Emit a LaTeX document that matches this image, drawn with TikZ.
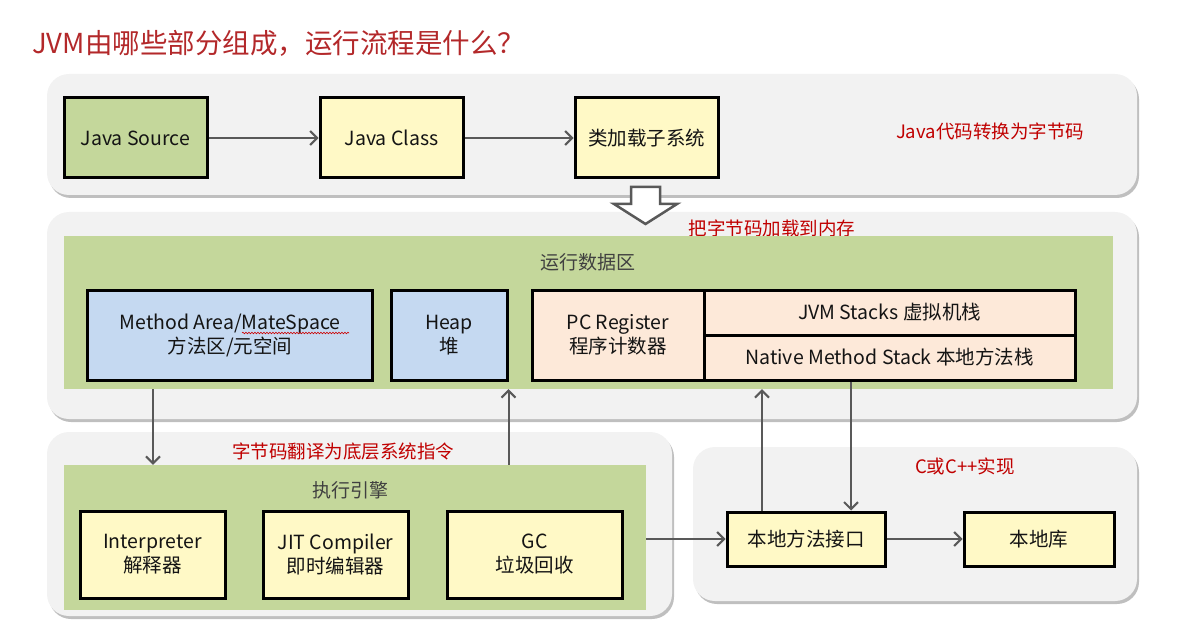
\documentclass[tikz,border=0pt]{standalone}
\usepackage{fontspec}
\setmainfont{Noto Sans CJK SC}
\usetikzlibrary{arrows.meta,shadows,decorations.pathmorphing}

\definecolor{panelgray}{HTML}{F2F2F2}
\definecolor{areagreen}{HTML}{C4D79B}
\definecolor{boxyellow}{HTML}{FFF9C6}
\definecolor{boxblue}{HTML}{C5D9F1}
\definecolor{boxpeach}{HTML}{FDE9D9}
\definecolor{linegray}{HTML}{595959}
\definecolor{notered}{HTML}{C00000}
\definecolor{titlered}{HTML}{B3282A}
\definecolor{labelgray}{HTML}{404040}

\tikzset{
  panel/.style={fill=panelgray, draw=none, rounded corners=22pt,
    drop shadow={shadow xshift=2pt, shadow yshift=-3pt, opacity=0.25, fill=black}},
  area/.style={fill=areagreen, draw=none, inner sep=0pt},
  box/.style={draw=black, line width=3pt, inner sep=0pt, align=center,
    text=black!92, font=\fontsize{19.5}{24}\selectfont},
  ybox/.style={box, fill=boxyellow},
  gbox/.style={box, fill=areagreen},
  bbox/.style={box, fill=boxblue},
  pbox/.style={box, fill=boxpeach},
  note/.style={text=notered, font=\fontsize{18.5}{22}\selectfont},
  areatitle/.style={text=labelgray, font=\fontsize{19}{22}\selectfont},
  arr/.style={draw=linegray, line width=2pt,
    -{Straight Barb[length=7pt, width=14pt, line width=2pt]}},
}

\begin{document}
\begin{tikzpicture}[x=1pt, y=-1pt]
  \useasboundingbox (0,0) rectangle (1198,628);

  % title
  \node[anchor=west, text=titlered, font=\fontsize{27.5}{32}\selectfont, inner sep=0pt]
    (title) at (32,43) {JVM由哪些部分组成，运行流程是什么？};

  % grey rounded panels
  \fill[panel] (47,74) rectangle (1137,195);
  \fill[panel] (47,212) rectangle (1137,419);
  \fill[panel] (47,432) rectangle (672,616);
  \fill[panel] (693,447) rectangle (1137,601);

  % ---- compile stage ----
  \node[gbox, minimum width=143pt, minimum height=80pt] (src) at (135.5,138) {Java Source};
  \node[ybox, minimum width=143pt, minimum height=80pt] (cls) at (391.5,138) {Java Class};
  \node[ybox, minimum width=143pt, minimum height=80pt] (ldr) at (646.5,138) {类加载子系统};
  \node[note] (n1) at (990,131) {Java代码转换为字节码};
  \draw[arr] (src) -- (cls);
  \draw[arr] (cls) -- (ldr);

  % hollow arrow into memory
  \draw[draw=linegray, fill=white, line width=2.5pt, line join=miter]
    (631,187) -- (660,187) -- (660,204) -- (677,204) -- (645.5,224)
    -- (614,204) -- (631,204) -- cycle;
  \node[note] (n2) at (772,228) {把字节码加载到内存};

  % ---- runtime data area ----
  \node[area, minimum width=1049pt, minimum height=153pt] (rda) at (588.5,312.5) {};
  \node[areatitle] (rdat) at (588,262) {运行数据区};
  \node[bbox, minimum width=285pt, minimum height=90pt] (mth) at (230,335)
    {Method Area/MateSpace\\方法区/元空间};
  \node[bbox, minimum width=116pt, minimum height=90pt] (heap) at (449,335) {Heap\\堆};
  \node[pbox, minimum width=172pt, minimum height=90pt] (pc) at (618,335)
    {PC Register\\程序计数器};
  \node[pbox, minimum width=371pt, minimum height=45pt] (jvms) at (889.5,312.5)
    {JVM Stacks 虚拟机栈};
  \node[pbox, minimum width=371pt, minimum height=45pt] (nms) at (889.5,357.5)
    {Native Method Stack 本地方法栈};
  % spell-check squiggle under MateSpace
  \draw[red!80!black, line width=0.6pt,
    decorate, decoration={snake, amplitude=0.8pt, segment length=3pt}]
    (242,333) -- (349,333);

  % ---- execution engine ----
  \node[note] (n3) at (343,451) {字节码翻译为底层系统指令};
  \node[area, minimum width=582pt, minimum height=145pt] (eng) at (355,537.5) {};
  \node[areatitle] (engt) at (350,490) {执行引擎};
  \node[ybox, minimum width=145pt, minimum height=87pt] (itp) at (152.5,554.5)
    {Interpreter\\解释器};
  \node[ybox, minimum width=145pt, minimum height=87pt] (jit) at (335.5,554.5)
    {JIT Compiler\\即时编辑器};
  \node[ybox, minimum width=175pt, minimum height=87pt] (gc) at (534.5,554.5)
    {GC\\垃圾回收};

  % ---- native side ----
  \node[note] (n4) at (965,466) {C或C++实现};
  \node[ybox, minimum width=158pt, minimum height=54pt] (nif) at (806,539) {本地方法接口};
  \node[ybox, minimum width=150pt, minimum height=54pt] (lib) at (1039,539) {本地库};

  % ---- connectors ----
  \coordinate (xa) at (153,0);
  \coordinate (xb) at (762,0);
  \coordinate (xc) at (851,0);
  \draw[arr] (rda.south -| xa) -- (eng.north -| xa);
  \draw[arr] (eng.north -| heap.east) -- (rda.south -| heap.east);
  \draw[arr] (nif.north -| xb) -- (rda.south -| xb);
  \draw[arr] (nms.south -| xc) -- (nif.north -| xc);
  \draw[arr] (eng.east |- nif) -- (nif.west);
  \draw[arr] (nif) -- (lib);
\end{tikzpicture}
\end{document}
